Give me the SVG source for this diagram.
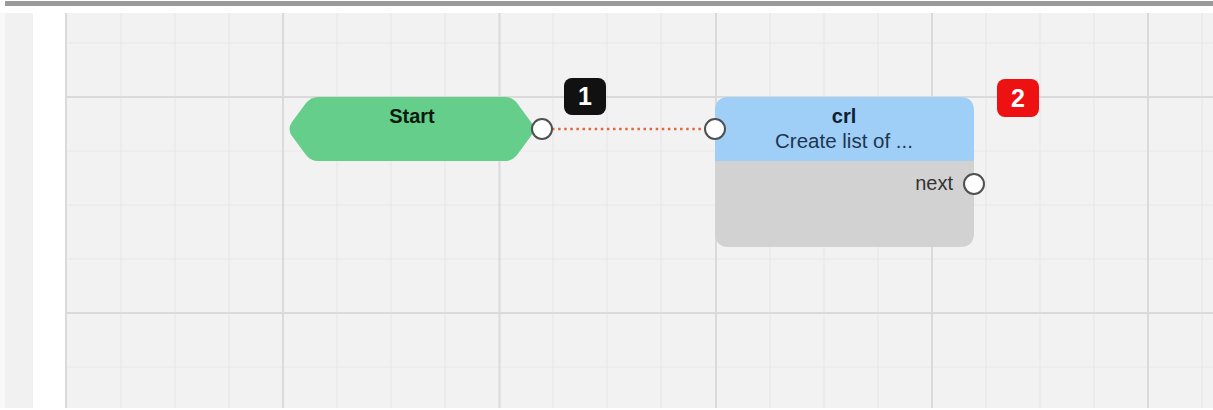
<svg xmlns="http://www.w3.org/2000/svg" width="1213" height="410" viewBox="0 0 1213 410">
  <style>
    .minor { stroke: #e8e8e8; stroke-width: 1.2; }
    .major { stroke: #dadada; stroke-width: 2; }
    .port { fill: #ffffff; stroke: #505050; stroke-width: 2; }
    .t { font-family: "Liberation Sans", Arial, sans-serif; }
    .bold { font-weight: bold; }
    .badge-text { font-family: "Liberation Sans", Arial, sans-serif; font-weight: bold; font-size: 25px; fill: #ffffff; text-anchor: middle; }
  </style>
  <!-- page background -->
  <rect x="0" y="0" width="1213" height="410" fill="#ffffff"/>
  <rect x="5" y="1" width="1208" height="5" fill="#9a9a9a"/>
  <rect x="0" y="13" width="5" height="395" fill="#f8f8f8"/>
  <rect x="5" y="13" width="28" height="395" fill="#f1f1f1"/>
  <rect x="33" y="13" width="32" height="395" fill="#ffffff"/>
  <rect x="65" y="13" width="1148" height="395" fill="#f2f2f2"/>
  <!-- grid -->
  <g id="grid">
    <g class="minor">
      <line x1="121" y1="13" x2="121" y2="408"/>
      <line x1="175" y1="13" x2="175" y2="408"/>
      <line x1="229" y1="13" x2="229" y2="408"/>
      <line x1="337" y1="13" x2="337" y2="408"/>
      <line x1="391" y1="13" x2="391" y2="408"/>
      <line x1="445" y1="13" x2="445" y2="408"/>
      <line x1="553" y1="13" x2="553" y2="408"/>
      <line x1="607" y1="13" x2="607" y2="408"/>
      <line x1="661" y1="13" x2="661" y2="408"/>
      <line x1="770" y1="13" x2="770" y2="408"/>
      <line x1="824" y1="13" x2="824" y2="408"/>
      <line x1="878" y1="13" x2="878" y2="408"/>
      <line x1="986" y1="13" x2="986" y2="408"/>
      <line x1="1040" y1="13" x2="1040" y2="408"/>
      <line x1="1094" y1="13" x2="1094" y2="408"/>
      <line x1="1202" y1="13" x2="1202" y2="408"/>
      <line x1="65" y1="43" x2="1213" y2="43"/>
      <line x1="65" y1="151" x2="1213" y2="151"/>
      <line x1="65" y1="205" x2="1213" y2="205"/>
      <line x1="65" y1="259" x2="1213" y2="259"/>
      <line x1="65" y1="367" x2="1213" y2="367"/>
    </g>
    <g class="major">
      <line x1="66" y1="13" x2="66" y2="408"/>
      <line x1="283" y1="13" x2="283" y2="408"/>
      <line x1="499.5" y1="13" x2="499.5" y2="408"/>
      <line x1="716" y1="13" x2="716" y2="408"/>
      <line x1="932" y1="13" x2="932" y2="408"/>
      <line x1="1148" y1="13" x2="1148" y2="408"/>
      <line x1="65" y1="97" x2="1213" y2="97"/>
      <line x1="65" y1="313" x2="1213" y2="313"/>
    </g>
  </g>

  <!-- connectors -->
  <g id="connectors">
    <line x1="552" y1="129" x2="705" y2="129" stroke="#e0683a" stroke-width="2.5" stroke-dasharray="2.5 3.6"/>
  </g>

  <!-- Start node -->
  <g id="node-start">
    <path d="M 292 122 L 306 103 Q 311 97 318 97 L 505 97 Q 512 97 517 103 L 531 122 Q 536 129 531 136 L 517 155 Q 512 161 505 161 L 318 161 Q 311 161 306 155 L 292 136 Q 287 129 292 122 Z" fill="#65ce8b"/>
    <text class="t bold" x="412" y="123" font-size="20" text-anchor="middle" fill="#0d1a10">Start</text>
    <circle class="port" cx="542" cy="129" r="10"/>
  </g>

  <!-- badge 1 -->
  <g id="badge-1">
    <rect x="564" y="78" width="42" height="37" rx="8" fill="#111111"/>
    <text class="badge-text" x="585" y="105">1</text>
  </g>

  <!-- crl node -->
  <g id="node-crl">
    <path d="M 715 111 Q 715 97 729 97 L 960 97 Q 974 97 974 111 L 974 161 L 715 161 Z" fill="#9fcff7"/>
    <path d="M 715 161 L 974 161 L 974 233 Q 974 247 960 247 L 729 247 Q 715 247 715 233 Z" fill="#d2d2d2"/>
    <text class="t bold" x="844" y="123" font-size="20" text-anchor="middle" fill="#0f1f33">crl</text>
    <text class="t" x="844" y="148" font-size="20.5" text-anchor="middle" fill="#1e3552">Create list of ...</text>
    <text class="t" x="953" y="190" font-size="20" text-anchor="end" fill="#333333">next</text>
    <circle class="port" cx="715" cy="129" r="10"/>
    <circle class="port" cx="974" cy="184" r="10"/>
  </g>

  <!-- badge 2 -->
  <g id="badge-2">
    <rect x="997" y="79" width="42" height="38" rx="8" fill="#ee1111"/>
    <text class="badge-text" x="1018" y="107">2</text>
  </g>
</svg>
